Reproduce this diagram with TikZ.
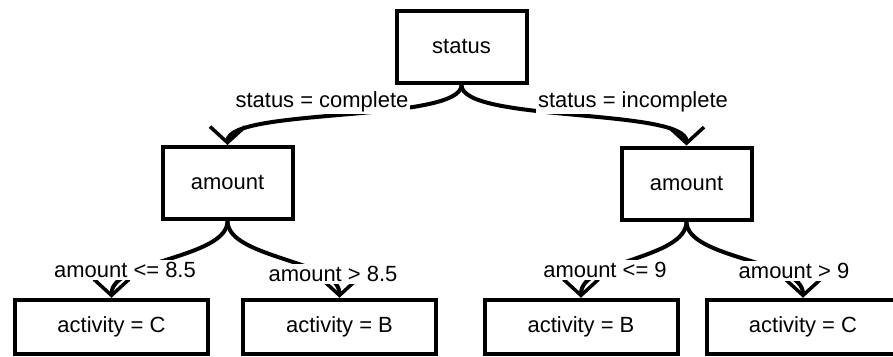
\documentclass[tikz,border=0pt]{standalone}
\usepackage{fontspec}
\setmainfont{Liberation Sans}
\usepackage{xcolor}
\usepackage{tikz}
\usetikzlibrary{arrows.meta,positioning}
\definecolor{ink}{HTML}{000000}
\tikzset{
  tbox/.style={draw=ink,line width=0.8mm,fill=white,inner sep=3pt,align=center,
    font=\fontsize{12.5}{15}\selectfont,minimum width=26mm,minimum height=14.4mm},
  leaf/.style={tbox,minimum width=38.6mm,minimum height=10.9mm},
  flow/.style={-{Straight Barb[length=3.2mm,width=7mm,line width=0.7mm]},
    line width=0.8mm,draw=ink},
  elabel/.style={font=\fontsize{12.5}{15}\selectfont,fill=white,inner sep=1pt},
}

\begin{document}
\begin{tikzpicture}
  \useasboundingbox (0,0) rectangle (178.6mm,-71.2mm);
  % tree nodes
  \node[tbox] (root) at (92.3mm,-9.4mm){status};
  \node[tbox] (amtL) at (45.5mm,-36.6mm){amount};
  \node[tbox] (amtR) at (137.3mm,-36.7mm){amount};
  \node[leaf] (leafA) at (22.3mm,-65.4mm){activity = C};
  \node[leaf] (leafB) at (67.9mm,-65.4mm){activity = B};
  \node[leaf] (leafC) at (116.2mm,-65.4mm){activity = B};
  \node[leaf] (leafD) at (160.6mm,-65.4mm){activity = C};
  \foreach \a/\b in {root/amtL,root/amtR,amtL/leafA,amtL/leafB,amtR/leafC,amtR/leafD}
    \draw[flow] (\a.south) .. controls +(0,-7.5mm) and +(0,7.5mm) .. (\b.north);
  % split labels
  \node[elabel] (lblA) at (64.4mm,-20.4mm){status = complete};
  \node[elabel] (lblB) at (126.6mm,-20.4mm){status = incomplete};
  \node[elabel] (lblC) at (25mm,-54mm){amount <= 8.5};
  \node[elabel] (lblD) at (66.6mm,-54.8mm){amount > 8.5};
  \node[elabel] (lblE) at (121mm,-54mm){amount <= 9};
  \node[elabel] (lblF) at (158.8mm,-54.2mm){amount > 9};
\end{tikzpicture}
\end{document}
